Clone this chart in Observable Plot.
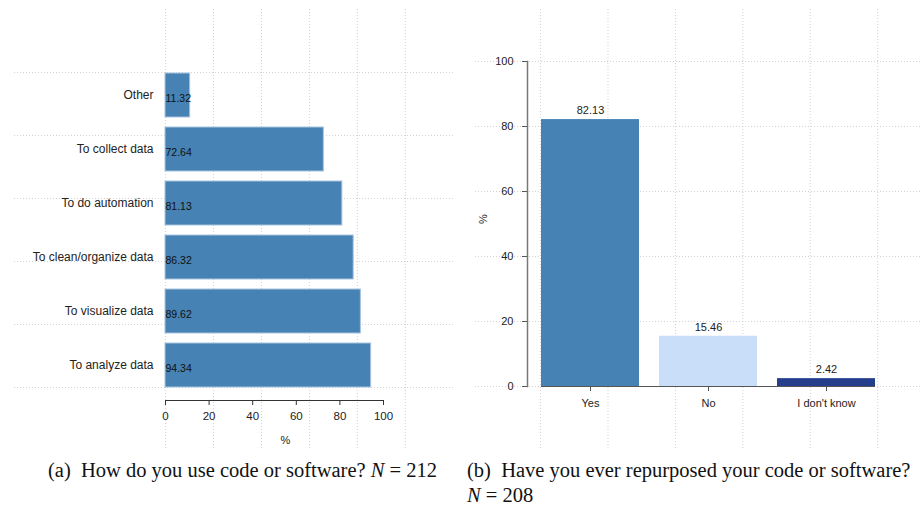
<!DOCTYPE html>
<html>
<head>
<meta charset="utf-8">
<script src="https://cdn.jsdelivr.net/npm/d3@7"></script>
<script src="https://cdn.jsdelivr.net/npm/@observablehq/plot@0.6"></script>
<style>
  html, body { margin: 0; padding: 0; background: #fff; }
  #root { position: relative; width: 921px; height: 510px; overflow: hidden; background: #fff; }
  .layer { position: absolute; top: 0; }
  .cap { position: absolute; font-family: "Liberation Serif", "Times New Roman", serif; font-size: 20.5px; line-height: 25px; color: #111; white-space: nowrap; }
</style>
</head>
<body>
<div id="root"></div>
<script>
// ---- data ----
const useCats = ["Other", "To collect data", "To do automation", "To clean/organize data", "To visualize data", "To analyze data"];
const useVals = [11.32, 72.64, 81.13, 86.32, 89.62, 94.34];
const repCats = ["Yes", "No", "I don't know"];
const repVals = [82.13, 15.46, 2.42];
const repColors = ["#4682b4", "#c9def9", "#263f8c"];
const xTicksA = [0, 20, 40, 60, 80, 100];
const yTicksB = [0, 20, 40, 60, 80, 100];
// background grid lines (independent of the axis ticks in the original)
const gridAx = [0, 22, 44, 66, 88, 110];
const gridAy = [0, 1, 2, 3, 4, 5];
const gridBx = [0, 1, 2, 3, 4, 5];

const dataA = useCats.map((c, i) => ({cat: c, v: useVals[i]}));
const dataB = repCats.map((c, i) => ({cat: c, v: repVals[i], color: repColors[i]}));

const font = "'Liberation Sans', Arial, Helvetica, sans-serif";
const gridStyle = {stroke: "#d2d2d2", strokeDasharray: "1,2", strokeWidth: 1};
const root = document.getElementById("root");

function place(svg, left) {
  svg.classList.add("layer");
  svg.style.left = left + "px";
  root.appendChild(svg);
}

// ---- panel (a) background grid ----
place(Plot.plot({
  width: 460, height: 455,
  marginLeft: 14, marginRight: 5, marginTop: 9, marginBottom: 5,
  style: {background: "transparent"},
  x: {domain: [-69.3, 133], axis: null},
  y: {domain: [-1, 6], reverse: true, axis: null},
  marks: [
    Plot.ruleY(gridAy, gridStyle),
    Plot.ruleX(gridAx, gridStyle)
  ]
}), 0);

// ---- panel (a) foreground ----
place(Plot.plot({
  width: 460, height: 455,
  marginLeft: 165, marginRight: 77, marginTop: 61, marginBottom: 55,
  style: {background: "transparent", fontFamily: font, color: "#222"},
  x: {domain: [0, 100]},
  y: {domain: useCats, paddingInner: 0.185, paddingOuter: 0.222},
  marks: [
    Plot.barX(dataA, {x: "v", y: "cat", fill: "#4682b4", stroke: "#a9c4e0", strokeWidth: 1}),
    Plot.text(dataA, {x: 0, y: "cat", text: d => d.v.toFixed(2), textAnchor: "start", dy: 3, fontSize: 10.5, fill: "#111"}),
    Plot.axisY({tickSize: 0, tickPadding: 12, fontSize: 12, label: null}),
    Plot.axisX({ticks: xTicksA, tickSize: 5, tickPadding: 6, fontSize: 11.5, label: null, stroke: "#333"}),
    Plot.frame({anchor: "bottom", stroke: "#333"}),
    Plot.text(["%"], {frameAnchor: "bottom", dy: 43, dx: 11, fontSize: 11, fill: "#222"})
  ]
}), 0);

// ---- panel (b) background grid ----
place(Plot.plot({
  width: 461, height: 455,
  marginLeft: 15, marginRight: 0, marginTop: 9, marginBottom: 5,
  style: {background: "transparent"},
  x: {domain: [-0.965, 5.65], axis: null},
  y: {domain: [-19.7, 116], axis: null},
  marks: [
    Plot.ruleY(yTicksB, gridStyle),
    Plot.ruleX(gridBx, gridStyle)
  ]
}), 460);

// ---- panel (b) foreground ----
place(Plot.plot({
  width: 461, height: 455,
  marginLeft: 80, marginRight: 44, marginTop: 61, marginBottom: 69,
  style: {background: "transparent", fontFamily: font, color: "#222"},
  color: {type: "identity"},
  x: {domain: repCats, paddingInner: 0.168, paddingOuter: 0},
  y: {domain: [0, 100]},
  marks: [
    Plot.barY(dataB, {x: "cat", y: "v", fill: "color"}),
    Plot.text(dataB, {x: "cat", y: "v", text: d => d.v.toFixed(2), dy: -9, fontSize: 11, fill: "#222"}),
    Plot.ruleY([{a: repCats[0], b: repCats[repCats.length - 1]}], {x1: "a", x2: "b", y: 0, stroke: "#555", strokeWidth: 1.2}),
    Plot.axisX({tickSize: 5, tickPadding: 8, fontSize: 11, label: null, stroke: "#555"}),
    Plot.axisY({ticks: yTicksB, tickSize: 5, tickPadding: 9, dx: -13, fontSize: 11, label: null, stroke: "#555"}),
    Plot.frame({anchor: "left", dx: -13, stroke: "#777", strokeWidth: 1.5}),
    Plot.text(["%"], {frameAnchor: "left", rotate: -90, dx: -57, fontSize: 11, fill: "#222"})
  ]
}), 460);

// ---- captions ----
const capA = document.createElement("div");
capA.className = "cap";
capA.style.left = "48px"; capA.style.top = "458px";
capA.innerHTML = "(a)&nbsp; How do you use code or software? <i>N</i> = 212";
root.appendChild(capA);

const capB = document.createElement("div");
capB.className = "cap";
capB.style.left = "467px"; capB.style.top = "458px";
capB.innerHTML = "(b)&nbsp; Have you ever repurposed your code or software?<br><i>N</i> = 208";
root.appendChild(capB);
</script>
</body>
</html>
